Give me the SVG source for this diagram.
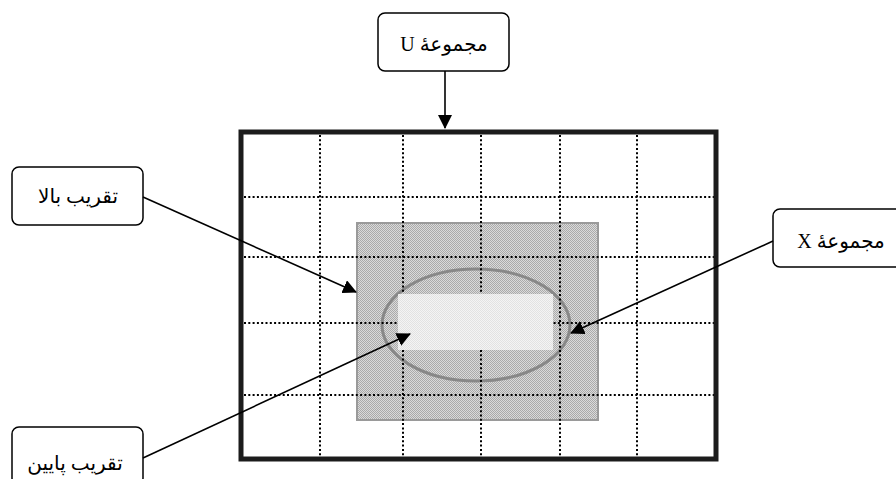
<svg xmlns="http://www.w3.org/2000/svg" width="896" height="479" viewBox="0 0 896 479">
<style>
.box{fill:#fff;stroke:#000;stroke-width:1.5}
.lbl{font-family:'Liberation Serif','DejaVu Sans',serif;font-size:20px;fill:#000;text-anchor:middle;direction:rtl;unicode-bidi:embed}
.grid{stroke:#000;stroke-width:2;stroke-dasharray:2 2.3;fill:none}
.conn{stroke:#000;stroke-width:1.6;fill:none;marker-end:url(#ah)}
</style>
<defs>
<marker id="ah" viewBox="0 0 14 14" refX="13" refY="7" markerWidth="14" markerHeight="14" markerUnits="userSpaceOnUse" orient="auto">
<path d="M0,0 L14,7 L0,14 z" fill="#000"/>
</marker>
<pattern id="dark" width="2" height="2" patternUnits="userSpaceOnUse">
<rect width="2" height="2" fill="#dadada"/>
<rect width="1" height="1" fill="#aaaaaa"/>
<rect x="1" y="1" width="1" height="1" fill="#aaaaaa"/>
</pattern>
<pattern id="light" width="2" height="2" patternUnits="userSpaceOnUse">
<rect width="2" height="2" fill="#f4f4f4"/>
<rect width="1" height="1" fill="#e2e2e2"/>
<rect x="1" y="1" width="1" height="1" fill="#e2e2e2"/>
</pattern>
</defs>
<rect width="896" height="479" fill="#fff"/>
<g id="universe">
<rect id="upper-approx" x="357" y="223" width="241" height="197" fill="url(#dark)" stroke="#9a9a9a" stroke-width="2"/>
<ellipse id="set-X" cx="476" cy="325" rx="94" ry="56" fill="none" stroke="#888" stroke-width="3"/>
<g id="grid" class="grid">
<line x1="320" y1="135" x2="320" y2="457"/>
<line x1="403" y1="135" x2="403" y2="457"/>
<line x1="481" y1="135" x2="481" y2="457"/>
<line x1="560" y1="135" x2="560" y2="457"/>
<line x1="637" y1="135" x2="637" y2="457"/>
<line x1="244" y1="197" x2="714" y2="197"/>
<line x1="244" y1="257" x2="714" y2="257"/>
<line x1="244" y1="323" x2="714" y2="323"/>
<line x1="244" y1="395" x2="714" y2="395"/>
</g>
<rect id="lower-approx" x="398" y="294" width="155" height="56" fill="url(#light)"/>
<rect id="frame" x="241" y="132" width="475" height="327" fill="none" stroke="#1c1c1c" stroke-width="5"/>
</g>
<g id="node-U">
<rect class="box" x="378" y="13" width="131" height="58" rx="7"/>
<text class="lbl" x="444" y="51">مجموعۀ U</text>
</g>
<g id="node-upper">
<rect class="box" x="12" y="167" width="131" height="58" rx="7"/>
<text class="lbl" x="78" y="203">تقریب بالا</text>
</g>
<g id="node-X">
<rect class="box" x="773" y="209" width="131" height="58" rx="7"/>
<text class="lbl" x="841" y="248">مجموعۀ X</text>
</g>
<g id="node-lower">
<rect class="box" x="12" y="427" width="131" height="58" rx="7"/>
<text class="lbl" x="75" y="470">تقریب پایین</text>
</g>
<g id="connectors">
<line class="conn" x1="445" y1="71" x2="445" y2="128"/>
<line class="conn" x1="143" y1="197" x2="356" y2="292"/>
<line class="conn" x1="773" y1="241" x2="571" y2="333"/>
<line class="conn" x1="143" y1="458" x2="410" y2="334"/>
</g>
</svg>
